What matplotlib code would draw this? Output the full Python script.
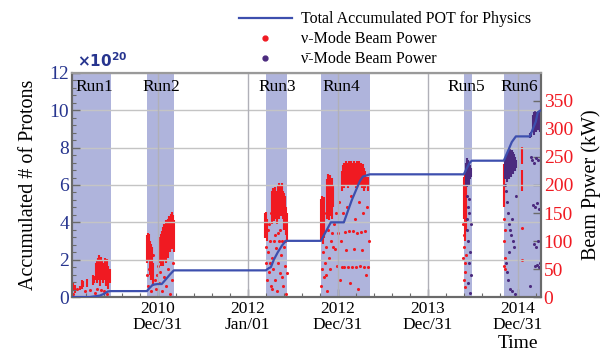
import matplotlib
matplotlib.use("Agg")
import matplotlib.pyplot as plt
from matplotlib.lines import Line2D
from matplotlib.ticker import MultipleLocator, FixedLocator

plt.rcParams["font.family"] = ["Liberation Serif", "DejaVu Serif"]

# time axis in decimal years
x_min, x_max = 2010.044, 2015.256

# run periods (start, end)
run_names = ["Run1", "Run2", "Run3", "Run4", "Run5", "Run6"]
run_start = [2010.044, 2010.878, 2012.200, 2012.811, 2014.400, 2014.844]
run_end = [2010.478, 2011.178, 2012.433, 2013.356, 2014.489, 2015.256]

# total accumulated POT (x1e20)
pot_year = [2010.044, 2010.244, 2010.356, 2010.400, 2010.444, 2010.478,
            2010.878, 2010.911, 2010.944, 2011.000, 2011.044, 2011.089,
            2011.133, 2011.178, 2012.200, 2012.233, 2012.256, 2012.289,
            2012.333, 2012.378, 2012.422, 2012.811, 2012.844, 2012.889,
            2012.922, 2013.067, 2013.111, 2013.156, 2013.200, 2013.244,
            2013.278, 2013.356, 2014.400, 2014.433, 2014.467, 2014.489,
            2014.844, 2014.889, 2014.933, 2014.978, 2015.133, 2015.167,
            2015.200, 2015.222, 2015.256]
pot_value = [0.0, 0.0, 0.08, 0.17, 0.30, 0.32,
             0.32, 0.50, 0.66, 0.70, 0.70, 0.95,
             1.20, 1.43, 1.43, 1.55, 1.60, 2.00,
             2.40, 2.75, 3.01, 3.01, 3.30, 3.70,
             4.00, 4.00, 4.60, 5.20, 5.70, 6.20,
             6.45, 6.57, 6.57, 6.90, 7.20, 7.30,
             7.30, 7.80, 8.30, 8.60, 8.60, 9.00,
             9.40, 9.90, 10.00]

# nu-mode beam power (kW): dense spans and single spills
nu_span_year = [2010.056, 2010.078, 2010.133, 2010.156, 2010.167, 2010.211,
                2010.278, 2010.289, 2010.311, 2010.322, 2010.333, 2010.344,
                2010.356, 2010.367, 2010.378, 2010.389, 2010.411, 2010.422,
                2010.433, 2010.444, 2010.467,
                2010.878, 2010.889, 2010.900, 2010.911, 2010.922, 2010.933,
                2010.944, 2011.022, 2011.033, 2011.044, 2011.056, 2011.067,
                2011.078, 2011.089, 2011.100, 2011.111, 2011.122, 2011.133,
                2011.144, 2011.156, 2011.167, 2011.178,
                2012.189, 2012.200, 2012.211, 2012.267, 2012.278, 2012.289,
                2012.300, 2012.311, 2012.322, 2012.333, 2012.344, 2012.356,
                2012.367, 2012.378, 2012.389, 2012.400, 2012.411, 2012.422,
                2012.433,
                2012.811, 2012.822, 2012.833, 2012.844, 2012.878, 2012.889,
                2012.900, 2012.911, 2012.922, 2012.933, 2012.944, 2013.044,
                2013.056, 2013.067, 2013.078, 2013.089, 2013.100, 2013.111,
                2013.122, 2013.133, 2013.144, 2013.156, 2013.167, 2013.178,
                2013.189, 2013.200, 2013.211, 2013.222, 2013.233, 2013.244,
                2013.256, 2013.267, 2013.278, 2013.289, 2013.300, 2013.311,
                2013.333,
                2014.400, 2014.411, 2014.422, 2014.844, 2015.044, 2015.044]
nu_span_lo = [10, 8, 12, 15, 18, 18,
              22, 25, 30, 25, 35, 30,
              20, 35, 30, 25, 30, 20,
              25, 15, 25,
              60, 65, 70, 40, 30, 50,
              20, 60, 55, 70, 55, 75,
              65, 60, 80, 70, 85, 80,
              90, 85, 95, 80,
              105, 110, 100, 130, 140, 135,
              150, 140, 130, 150, 140, 160,
              145, 150, 140, 120, 130, 110,
              100,
              100, 110, 95, 105, 140, 150,
              137, 145, 150, 140, 160, 190,
              200, 195, 205, 200, 210, 195,
              205, 200, 210, 198, 205, 200,
              210, 195, 205, 200, 208, 200,
              205, 195, 200, 190, 195, 200,
              190,
              140, 100, 120, 160, 238, 190]
nu_span_hi = [25, 22, 20, 30, 28, 32,
              40, 38, 60, 66, 70, 75,
              68, 72, 65, 60, 70, 62,
              68, 55, 50,
              110, 114, 112, 100, 95, 90,
              60, 107, 112, 118, 125, 130,
              128, 137, 135, 140, 145, 142,
              149, 151, 146, 138,
              150, 152, 140, 190, 195, 192,
              196, 190, 185, 200, 203, 200,
              195, 203, 190, 185, 180, 160,
              150,
              175, 181, 170, 178, 210, 220,
              215, 218, 205, 212, 200, 225,
              235, 240, 238, 243, 240, 232,
              243, 238, 242, 236, 240, 243,
              240, 235, 242, 238, 243, 236,
              240, 235, 238, 230, 225, 215,
              215,
              215, 220, 200, 238, 267, 226]

nu_dot_year = [2010.244, 2010.300, 2010.322, 2010.367, 2010.400, 2010.433,
               2010.356, 2010.056, 2010.100, 2010.189, 2010.456, 2010.400,
               2010.878, 2010.889, 2010.900, 2010.922, 2010.944, 2010.967,
               2010.978, 2010.989, 2011.011, 2011.022, 2011.044, 2011.067,
               2011.089, 2011.111, 2011.133, 2011.156, 2011.167, 2011.000,
               2012.200, 2012.200, 2012.211, 2012.222, 2012.233, 2012.244,
               2012.256, 2012.267, 2012.278, 2012.289, 2012.300, 2012.311,
               2012.322, 2012.333, 2012.344, 2012.356, 2012.367, 2012.378,
               2012.389, 2012.400, 2012.411, 2012.422, 2012.433, 2012.244,
               2012.300, 2012.356, 2012.411, 2012.267, 2012.378, 2012.333,
               2012.222, 2012.256, 2012.233,
               2012.811, 2012.822, 2012.833, 2012.844, 2012.856, 2012.867,
               2012.878, 2012.889, 2012.900, 2012.911, 2012.922, 2012.933,
               2012.956, 2012.967, 2012.978, 2012.989, 2013.000, 2013.011,
               2013.022, 2013.033, 2013.044, 2013.056, 2013.067, 2013.078,
               2013.089, 2013.100, 2013.111, 2013.122, 2013.133, 2013.144,
               2013.156, 2013.167, 2013.178, 2013.189, 2013.200, 2013.211,
               2013.222, 2013.233, 2013.244, 2013.256, 2013.267, 2013.278,
               2013.289, 2013.300, 2013.311, 2013.322, 2013.333, 2013.344,
               2012.822, 2012.844, 2012.867, 2012.944,
               2014.400, 2014.411, 2014.400, 2014.411, 2014.422, 2014.400,
               2014.411, 2014.389, 2014.389,
               2014.844, 2014.856, 2014.844, 2014.856, 2014.844, 2014.856,
               2015.044, 2015.044]
nu_dot_kw = [12, 8, 15, 12, 10, 5,
             45, 5, 15, 10, 30, 40,
             40, 20, 50, 10, 75, 30,
             15, 40, 25, 45, 10, 35,
             20, 50, 5, 30, 60, 55,
             90, 60, 30, 80, 45, 100,
             20, 70, 50, 100, 30, 88,
             10, 60, 100, 43, 75, 100,
             20, 89, 55, 5, 43, 60,
             110, 120, 100, 15, 35, 115,
             120, 150, 130,
             20, 50, 80, 35, 60, 90,
             10, 120, 70, 50, 100, 115,
             130, 85, 150, 55, 115, 170,
             30, 100, 53, 150, 53, 117,
             84, 160, 53, 118, 25, 180,
             53, 118, 85, 140, 53, 115,
             15, 170, 55, 117, 84, 150,
             53, 118, 40, 160, 53, 100,
             130, 150, 40, 90,
             90, 60, 30, 18, 75, 110,
             45, 70, 130,
             140, 120, 100, 70, 55, 50,
             124, 66]

# anti-nu-mode beam power (kW)
anti_span_year = [2014.422, 2014.433, 2014.444, 2014.456, 2014.467, 2014.478,
                  2014.856, 2014.867, 2014.878, 2014.889, 2014.900, 2014.911,
                  2014.922, 2014.933, 2014.944, 2014.956, 2014.967, 2014.978,
                  2015.133, 2015.144, 2015.167, 2015.178, 2015.189, 2015.200,
                  2015.211, 2015.222, 2015.233, 2015.244]
anti_span_lo = [200, 196, 205, 200, 210, 215,
                210, 215, 205, 215, 210, 220,
                215, 225, 220, 230, 225, 230,
                283, 285, 295, 290, 300, 295,
                302, 298, 300, 295]
anti_span_hi = [240, 249, 245, 240, 235, 230,
                245, 250, 255, 258, 262, 265,
                260, 262, 258, 255, 250, 245,
                292, 295, 325, 330, 332, 328,
                330, 325, 332, 320]

anti_dot_year = [2014.433, 2014.444, 2014.456, 2014.433, 2014.444, 2014.467,
                 2014.456, 2014.478, 2014.444, 2014.467, 2014.433, 2014.456,
                 2014.478,
                 2014.867, 2014.878, 2014.889, 2014.900, 2014.911, 2014.922,
                 2014.933, 2014.944, 2014.956, 2014.867, 2014.878, 2014.889,
                 2014.911, 2014.933, 2014.967, 2014.900, 2014.978, 2014.856,
                 2015.156, 2015.178, 2015.200, 2015.167, 2015.189, 2015.211,
                 2015.233, 2015.178, 2015.200, 2015.222, 2015.189, 2015.211,
                 2015.233, 2015.244, 2015.144, 2015.222, 2015.133]
anti_dot_kw = [180, 160, 150, 120, 100, 80,
               60, 40, 25, 8, 140, 175,
               130,
               190, 170, 150, 130, 120, 110,
               140, 100, 90, 60, 45, 30,
               15, 10, 5, 80, 180, 200,
               245, 240, 248, 165, 160, 168,
               158, 95, 90, 100, 55, 58,
               53, 60, 250, 245, 20]

blue = "#3d4fae"
dark_blue = "#27358f"
red = "#f01a22"
purple = "#4b2a7e"
band = "#a7acd9"
frame = "#6a6a6a"

fig = plt.figure(figsize=(6.03, 3.52), dpi=100)
ax2 = fig.add_axes([0.119, 0.156, 0.778, 0.637])
ax1 = ax2.twinx()
# POT axis on the left, drawn on top of the beam power axis
ax1.yaxis.tick_left()
ax1.yaxis.set_label_position("left")
ax2.yaxis.tick_right()
ax2.yaxis.set_label_position("right")
ax1.set_zorder(ax2.get_zorder() + 1)
ax1.patch.set_visible(False)

for s, e in zip(run_start, run_end):
    ax2.axvspan(s, e, color=band, alpha=0.9, lw=0, zorder=0)

ax2.vlines(nu_span_year, nu_span_lo, nu_span_hi, color=red, lw=1.5, zorder=2)
ax2.scatter(nu_dot_year, nu_dot_kw, s=5, color=red, lw=0, zorder=2)
ax2.vlines(anti_span_year, anti_span_lo, anti_span_hi, color=purple, lw=1.5, zorder=3)
ax2.scatter(anti_dot_year, anti_dot_kw, s=5, color=purple, lw=0, zorder=3)

ax1.plot(pot_year, pot_value, color=blue, lw=1.6, zorder=4)

ax1.set_xlim(x_min, x_max)
ax1.set_ylim(0, 12)
ax2.set_ylim(0, 400)

# date ticks
tick_year = [2011.0, 2012.0, 2013.0, 2014.0, 2015.0]
tick_text = ["2010\nDec/31", "2012\nJan/01", "2012\nDec/31", "2013\nDec/31", "2014\nDec/31"]
ax2.set_xticks(tick_year)
ax2.set_xticklabels(tick_text, fontsize=12.5, linespacing=0.95)
ax2.xaxis.set_minor_locator(FixedLocator([2010 + i * 0.2 for i in range(1, 27)]))
ax1.tick_params(axis="x", which="both", bottom=False, labelbottom=False)

ax1.yaxis.set_major_locator(MultipleLocator(2))
ax1.yaxis.set_minor_locator(MultipleLocator(0.4))
ax2.yaxis.set_major_locator(FixedLocator(range(0, 351, 50)))

ax1.tick_params(axis="y", which="major", direction="in", length=6, width=1,
                color=frame, labelsize=14, labelcolor=dark_blue, pad=2)
ax1.tick_params(axis="y", which="minor", direction="in", length=3, width=0.8, color=frame)
ax2.tick_params(axis="y", which="major", direction="in", length=6, width=1,
                color=frame, labelsize=14, labelcolor=red, pad=2)
ax2.tick_params(axis="x", which="major", direction="in", length=6, width=1,
                color=frame, pad=3)
ax2.tick_params(axis="x", which="minor", direction="in", length=3, width=0.8, color=frame)

ax1.grid(True, axis="y", color="#c4c4c4", lw=1)
ax1.set_axisbelow(True)
for t in tick_year:
    ax1.axvline(t, color="#b0b0b8", lw=1, zorder=1)

for ax in (ax1, ax2):
    for side in ax.spines:
        ax.spines[side].set_color(frame)
        ax.spines[side].set_linewidth(1.5)
ax1.spines["top"].set_color("#9a9a9a")

ax1.set_ylabel("Accumulated # of Protons", fontsize=14.5, labelpad=8)
ax2.set_ylabel("Beam Ppwer (kW)", fontsize=14.5, labelpad=6)
ax2.set_xlabel("Time", fontsize=14)
ax2.xaxis.set_label_coords(0.951, -0.17)

# run labels
run_label_x = [0.008, 0.151, 0.397, 0.535, 0.800, 0.913]
for name, lx in zip(run_names, run_label_x):
    ax1.text(lx, 0.935, name, transform=ax1.transAxes, fontsize=12.5,
             ha="left", va="center", zorder=5)

fig.text(0.128, 0.828, r"$\mathbf{\times10^{20}}$", color=dark_blue,
         fontsize=11, family="DejaVu Sans", ha="left", va="center")

handles = [Line2D([], [], color=blue, lw=1.6),
           Line2D([], [], marker="o", ls="", color=red, ms=3.5),
           Line2D([], [], marker="o", ls="", color=purple, ms=3.5)]
labels = ["Total Accumulated POT for Physics",
          "\u03bd-Mode Beam Power",
          "\u03bd\u0304-Mode Beam Power"]
fig.legend(handles, labels, loc="upper left", bbox_to_anchor=(0.378, 1.0),
           frameon=False, fontsize=11.5, handlelength=3.3, handletextpad=0.6,
           labelspacing=0.25, borderpad=0.2)

fig.savefig("out.png", dpi=100)
